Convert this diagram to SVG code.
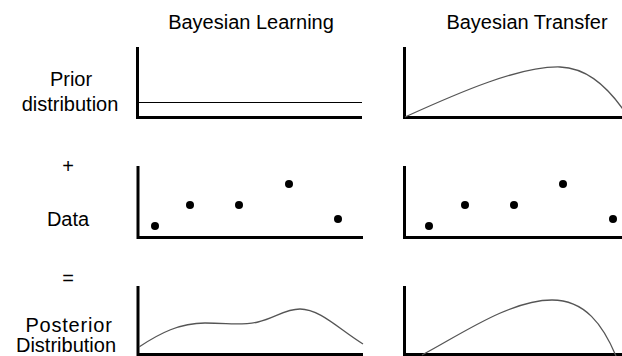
<svg xmlns="http://www.w3.org/2000/svg" width="622" height="356" viewBox="0 0 622 356">
<style>
text{font-family:"Liberation Sans",Arial,sans-serif;font-size:20px;fill:#000;text-anchor:middle}
.ax{fill:none;stroke:#000;stroke-width:3}
.cv{fill:none;stroke:#555;stroke-width:1.3}
.fl{fill:none;stroke:#000;stroke-width:1}
.dot{fill:#000}
</style>
<rect width="622" height="356" fill="#fff"/>
<g id="headers">
<text x="251" y="29">Bayesian Learning</text>
<text x="527" y="29">Bayesian Transfer</text>
</g>
<g id="labels">
<text x="71" y="86">Prior</text>
<text x="70" y="111">distribution</text>
<text x="68" y="173">+</text>
<text x="68" y="226">Data</text>
<text x="68" y="285">=</text>
<text x="69" y="332" letter-spacing="0.8">Posterior</text>
<text x="66" y="352">Distribution</text>
</g>
<g id="prior-learning">
<path class="ax" d="M137.5,47 V117.5 H362"/>
<path class="fl" d="M137.5,102.5 H362"/>
</g>
<g id="prior-transfer">
<path class="ax" d="M404.5,47 V117.5 H622"/>
<path class="cv" d="M405,117 C460,92 520,66 560,67 C584,68 604,82 625,112"/>
</g>
<g id="data-learning">
<path class="ax" d="M138,166 V237.5 H363"/>
<circle class="dot" cx="155" cy="226" r="4"/>
<circle class="dot" cx="190" cy="205" r="4"/>
<circle class="dot" cx="239" cy="205" r="4"/>
<circle class="dot" cx="289" cy="184" r="4"/>
<circle class="dot" cx="338" cy="219" r="4"/>
</g>
<g id="data-transfer">
<path class="ax" d="M404.5,166 V237.5 H622"/>
<circle class="dot" cx="429" cy="226" r="4"/>
<circle class="dot" cx="465" cy="205" r="4"/>
<circle class="dot" cx="514" cy="205" r="4"/>
<circle class="dot" cx="563" cy="184" r="4"/>
<circle class="dot" cx="613" cy="219" r="4"/>
</g>
<g id="posterior-learning">
<path class="ax" d="M138,286 V354.5 H363"/>
<path class="cv" d="M139,347 C160,333 180,323 205,323 C230,323 240,326 258,322 C275,318 285,309 300,309 C320,309 340,330 363,344"/>
</g>
<g id="posterior-transfer">
<path class="ax" d="M404.5,286 V354.5 H622"/>
<path class="cv" d="M422,355 C460,335 510,300 552,300 C585,300 603,325 616,356"/>
</g>
</svg>
